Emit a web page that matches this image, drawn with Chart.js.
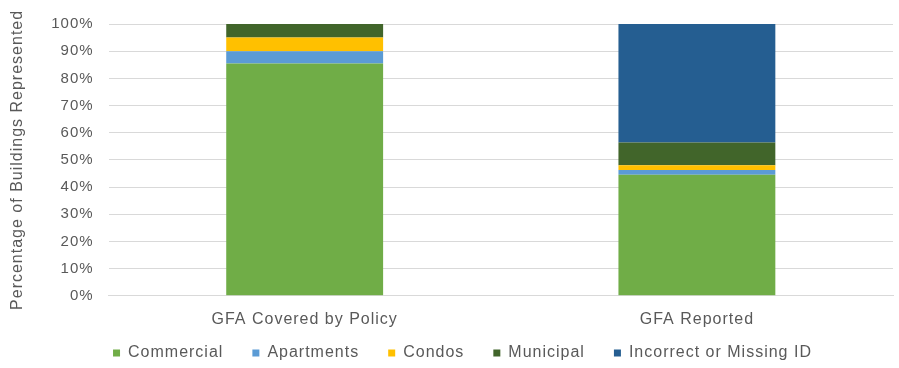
<!DOCTYPE html>
<html>
<head>
<meta charset="utf-8">
<script src="https://cdn.jsdelivr.net/npm/chart.js@4"></script>
<style>
  html, body { margin: 0; padding: 0; background: #fff; }
  #wrap { width: 899px; height: 368px; }
</style>
</head>
<body>
<div id="wrap"><canvas id="c" width="899" height="368"></canvas></div>
<script>
const categories = ['GFA Covered by Policy', 'GFA Reported'];
const commercial = [85.5, 44.5];
const apartments = [4.5, 1.8];
const condos = [5.0, 1.7];
const municipal = [5.0, 8.4];
const incorrectOrMissing = [0, 43.6];
const yTicks = [0, 10, 20, 30, 40, 50, 60, 70, 80, 90, 100];

const fg = '#595959';
const grid = '#d9d9d9';

const datasets = [
  { label: 'Commercial', data: commercial, backgroundColor: '#70ad47' },
  { label: 'Apartments', data: apartments, backgroundColor: '#5b9bd5' },
  { label: 'Condos', data: condos, backgroundColor: '#ffc000' },
  { label: 'Municipal', data: municipal, backgroundColor: '#41652a' },
  { label: 'Incorrect or Missing ID', data: incorrectOrMissing, backgroundColor: '#255e91' },
].map((d) => ({ ...d, barPercentage: 0.4, categoryPercentage: 1.0, borderWidth: 0 }));

// the source image has loosely spaced text
const spacing = {
  id: 'spacing',
  beforeUpdate: (chart) => { chart.ctx.letterSpacing = '1px'; },
  beforeDraw: (chart) => { chart.ctx.letterSpacing = '1px'; },
};

// nudge the legend row up under the axis labels, and a bit to the right
const legendShift = {
  id: 'legendShift',
  afterLayout: (chart) => {
    const lg = chart.legend;
    lg.top -= 19;
    lg.bottom -= 19;
    lg.left += 14;
    lg.right += 14;
  },
};

Chart.defaults.font.family = '"Liberation Sans", Arial, sans-serif';

new Chart(document.getElementById('c').getContext('2d'), {
  type: 'bar',
  data: { labels: categories, datasets },
  plugins: [spacing, legendShift],
  options: {
    responsive: false,
    animation: false,
    layout: { padding: { top: 13, left: 4, right: 6, bottom: -22 } },
    plugins: {
      tooltip: { enabled: false },
      legend: {
        position: 'bottom',
        labels: {
          color: fg,
          boxWidth: 7,
          boxHeight: 7,
          padding: 29,
          font: { size: 16 },
        },
      },
    },
    scales: {
      x: {
        stacked: true,
        ticks: { color: fg, font: { size: 16 }, padding: 6 },
        grid: { display: false },
        border: { color: grid },
      },
      y: {
        stacked: true,
        min: 0,
        max: 100,
        afterBuildTicks: (axis) => { axis.ticks = yTicks.map((v) => ({ value: v })); },
        ticks: {
          color: fg,
          font: { size: 15 },
          padding: 15,
          callback: (v) => v + '%',
        },
        grid: { color: grid, drawTicks: false },
        border: { display: false },
        title: {
          display: true,
          text: 'Percentage of Buildings Represented',
          color: fg,
          font: { size: 16 },
          padding: { top: 4, bottom: 9 },
        },
      },
    },
  },
});
</script>
</body>
</html>
